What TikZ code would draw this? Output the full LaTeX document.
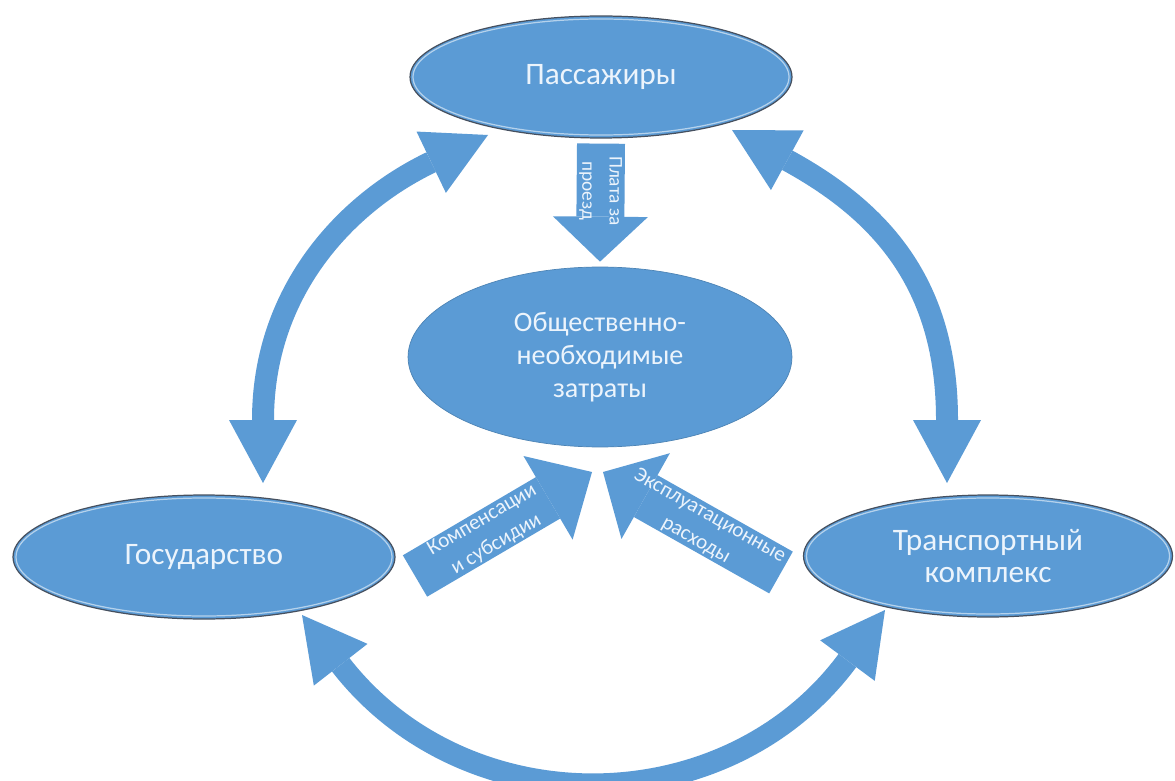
\documentclass[tikz,border=0pt]{standalone}
\usepackage{fontspec}
\setmainfont{Carlito}
\usetikzlibrary{shapes.geometric,arrows.meta}
\definecolor{blu}{RGB}{91,155,213}
\definecolor{txt}{RGB}{236,244,252}
\definecolor{rim}{RGB}{70,80,95}
\begin{document}
\begin{tikzpicture}[x=0.02cm,y=-0.02cm,
  bubble/.style={ellipse, fill=blu, draw=rim, line width=0.7pt, inner sep=0pt, text=txt,
    font=\fontsize{17.8}{18}\selectfont, align=center},
  core/.style={ellipse, fill=blu, draw=blu!85!black, line width=0.4pt, inner sep=0pt, text=txt,
    font=\fontsize{16}{18.7}\selectfont, align=center},
  gloss/.style={draw=blu!45!white, line width=0.7pt},
  curvearrow/.style={draw=blu, line width=0.44cm,
    {Triangle[length=1.26cm,width=1.36cm,line width=0pt]}-{Triangle[length=1.26cm,width=1.36cm,line width=0pt]}},
  blockarrow/.style={draw=blu, line width=0.96cm},
  arrowtext/.style={text=txt, align=center, inner sep=0pt, font=\fontsize{12}{16}\selectfont}
]
\useasboundingbox (0,0) rectangle (1175,780);
\fill[white] (0,0) rectangle (1175,780);

% nodes
\node[bubble, minimum width=7.64cm, minimum height=2.44cm] (pas) at (601,77) {Пассажиры};
\node[core, minimum width=7.68cm, minimum height=3.6cm] (cost) at (600,357) {Общественно-\\необходимые\\затраты};
\node[bubble, minimum width=7.64cm, minimum height=2.48cm] (gos) at (204,557) {Государство};
\node[bubble, minimum width=7.38cm, minimum height=2.44cm] (tk) at (988,556) {Транспортный\\комплекс};

% soft bevel highlight inside the outer ellipses
\draw[gloss] (pas.center) ellipse [x radius=188, y radius=58];
\draw[gloss] (gos.center) ellipse [x radius=188, y radius=59];
\draw[gloss] (tk.center) ellipse [x radius=181.5, y radius=58];

% free ends of the curved arrows
\coordinate (lcA) at (263,483);
\coordinate (lcB) at (488,135);
\coordinate (rcA) at (947,483);
\coordinate (rcB) at (732,130);
\coordinate (bcA) at (302,615);
\coordinate (bcB) at (885,610);

\draw[curvearrow] (lcA) .. controls (263,293) and (344,204) .. (lcB);
\draw[curvearrow] (rcA) .. controls (947,283) and (880,211) .. (rcB);
\draw[curvearrow] (bcA) .. controls (466,826) and (726,824) .. (bcB);

% block arrows to the central ellipse
\draw[blockarrow, -{Triangle[length=0.9cm,width=1.9cm,line width=0pt]}]
  ([yshift=-0.1cm]pas.south) -- ([yshift=0.1cm]cost.north)
  node[pos=0.4, rotate=-90, arrowtext, font=\fontsize{11}{15.5}\selectfont] {Плата за\\проезд};

\coordinate (ksT) at (415,576);
\coordinate (ksH) at (592,472);
\draw[blockarrow, -{Triangle[length=1.02cm,width=1.94cm,line width=0pt]}]
  (ksT) -- (ksH) node[pos=0.42, rotate=30.4, arrowtext] {Компенсации\\и субсидии};

\coordinate (erT) at (781,572.5);
\coordinate (erH) at (603,472);
\draw[blockarrow, -{Triangle[length=0.98cm,width=1.97cm,line width=0pt]}]
  (erT) -- (erH) node[pos=0.44, rotate=-29.4, arrowtext] {Эксплуатационные\\расходы};
\end{tikzpicture}
\end{document}
